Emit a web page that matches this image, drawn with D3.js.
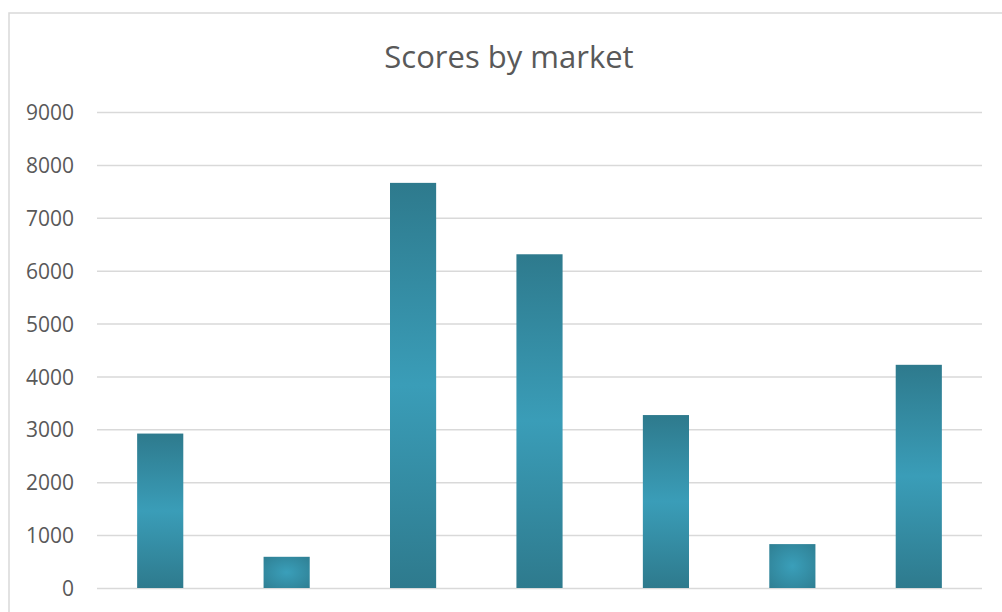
<!DOCTYPE html>
<html>
<head>
<meta charset="utf-8">
<script src="https://cdn.jsdelivr.net/npm/d3@7"></script>
<style>
  html, body { margin: 0; padding: 0; background: #fff; overflow: hidden; }
  svg { display: block; }
</style>
</head>
<body>
<svg id="chart" width="1002" height="612"></svg>
<script>
// Market scores
const markets = ["Market 1", "Market 2", "Market 3", "Market 4", "Market 5", "Market 6", "Market 7"];
const scores = [2920, 590, 7660, 6310, 3270, 830, 4220];
const yTicks = [0, 1000, 2000, 3000, 4000, 5000, 6000, 7000, 8000, 9000];
const title = "Scores by market";

const svg = d3.select("#chart");
const W = 1002, H = 612;
const plot = { left: 97, right: 982, top: 112, bottom: 588 };

// Chart area frame (extends beyond the visible window on the right/bottom)
svg.append("rect")
  .attr("x", 9).attr("y", 13)
  .attr("width", W + 20).attr("height", H + 20)
  .attr("fill", "#fff")
  .attr("stroke", "#d9d9d9").attr("stroke-width", 1.5);

// Bar fill: dark at the ends, lighter teal in the middle
const defs = svg.append("defs");
const grad = defs.append("linearGradient")
  .attr("id", "barFill")
  .attr("x1", 0).attr("y1", 0).attr("x2", 0).attr("y2", 1);
grad.append("stop").attr("offset", "0%").attr("stop-color", "#2e7a8d");
grad.append("stop").attr("offset", "50%").attr("stop-color", "#3a9db8");
grad.append("stop").attr("offset", "100%").attr("stop-color", "#2e7a8d");

const rg = defs.append("radialGradient")
  .attr("id", "barFillShort")
  .attr("cx", 0.5).attr("cy", 0.5).attr("r", 0.7);
rg.append("stop").attr("offset", "0%").attr("stop-color", "#3a9fba");
rg.append("stop").attr("offset", "100%").attr("stop-color", "#2f7f93");

const x = d3.scaleBand()
  .domain(markets)
  .range([plot.left, plot.right])
  .paddingInner(0.635)
  .paddingOuter(0.3175);

const y = d3.scaleLinear()
  .domain([0, 9000])
  .range([plot.bottom, plot.top]);

// Horizontal gridlines
const yAxis = d3.axisLeft(y)
  .tickValues(yTicks)
  .tickSize(-(plot.right - plot.left))
  .tickPadding(23)
  .tickFormat(d3.format("d"));

const gy = svg.append("g")
  .attr("transform", `translate(${plot.left},0)`)
  .call(yAxis);
gy.select(".domain").remove();
gy.selectAll(".tick line")
  .attr("stroke", "#d9d9d9")
  .attr("stroke-width", 1.5);
gy.selectAll(".tick text")
  .attr("fill", "#595959")
  .style("font-family", "'Open Sans', 'Noto Sans', sans-serif")
  .style("font-size", "21px")
  .attr("dy", "0.36em");

// Bars
svg.append("g")
  .selectAll("rect")
  .data(scores)
  .join("rect")
  .attr("x", (d, i) => x(markets[i]))
  .attr("y", d => y(d))
  .attr("width", x.bandwidth())
  .attr("height", d => y(0) - y(d))
  .attr("fill", d => (y(0) - y(d)) < 80 ? "url(#barFillShort)" : "url(#barFill)");

// Title
svg.append("text")
  .attr("x", 509)
  .attr("y", 68)
  .attr("text-anchor", "middle")
  .attr("fill", "#595959")
  .style("font-family", "'Open Sans', 'Noto Sans', sans-serif")
  .style("font-size", "31px")
  .text(title);
</script>
</body>
</html>
